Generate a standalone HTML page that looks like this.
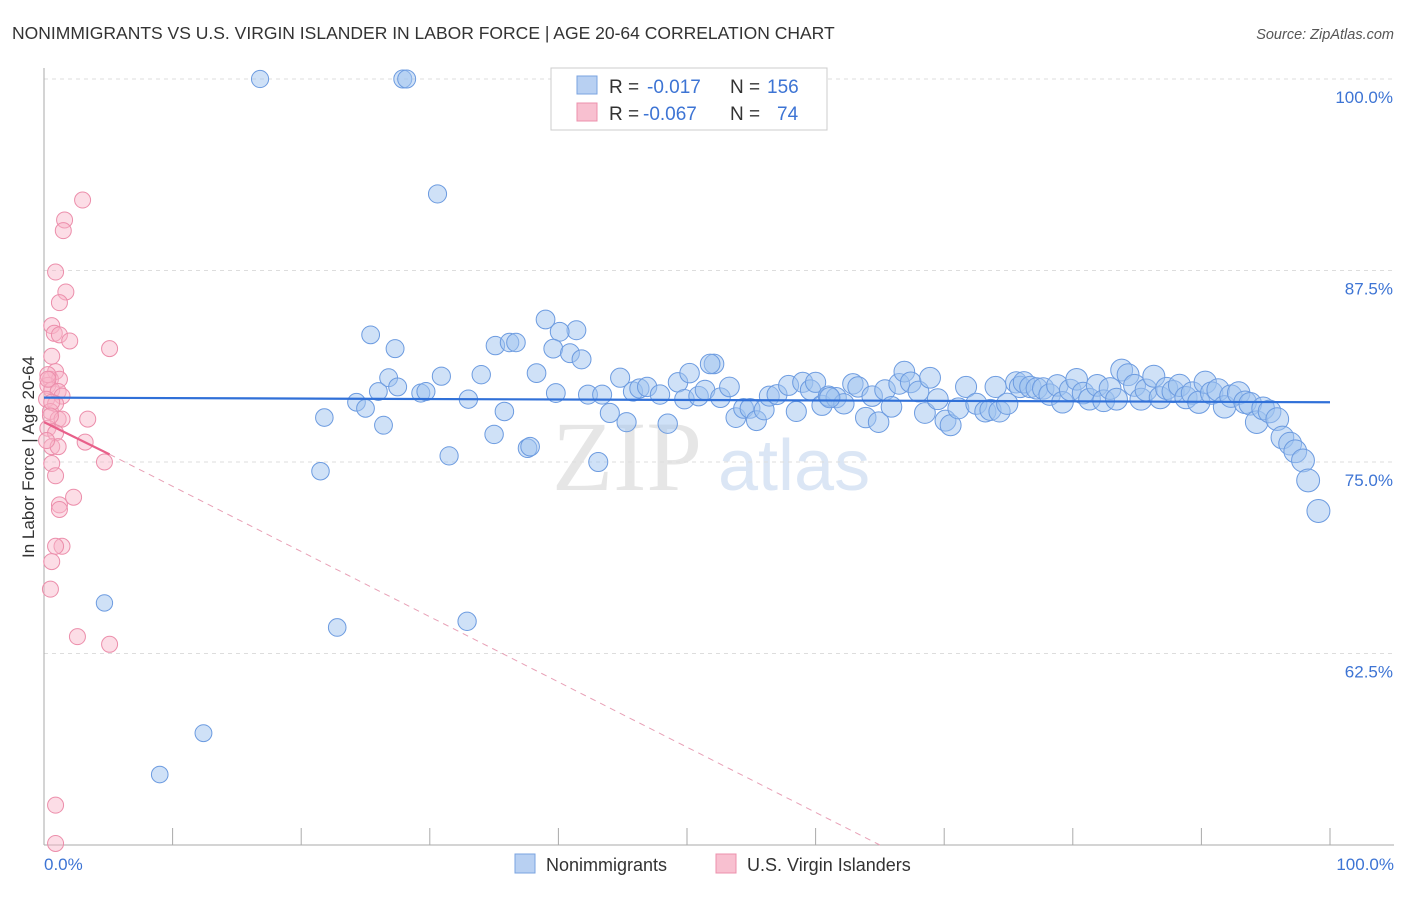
<!DOCTYPE html>
<html><head><meta charset="utf-8"><style>
body{margin:0;background:#fff;font-family:"Liberation Sans",sans-serif}
svg text{font-family:"Liberation Sans",sans-serif}
</style></head><body>
<svg id="c" width="1406" height="892" xmlns="http://www.w3.org/2000/svg">
<text x="12" y="39" font-size="17.5" fill="#333">NONIMMIGRANTS VS U.S. VIRGIN ISLANDER IN LABOR FORCE | AGE 20-64 CORRELATION CHART</text>
<text x="1394" y="39" font-size="14.5" fill="#555" font-style="italic" text-anchor="end">Source: ZipAtlas.com</text>
<text x="552" y="490" font-size="100" fill="#e6e6e6" style="font-family:'Liberation Serif',serif">ZIP</text>
<text x="718" y="490" font-size="72" fill="#dbe6f5">atlas</text>
<g id="grid"></g><g id="pts"></g><g id="lines"></g>
<text transform="translate(34,457) rotate(-90)" font-size="17" fill="#333" text-anchor="middle">In Labor Force | Age 20-64</text>
<g>
<rect x="551" y="68" width="276" height="62" fill="#fff" stroke="#ccc"/>
<rect x="577" y="76" width="20" height="18" fill="#b8d0f2" stroke="#7aa3e0"/>
<rect x="577" y="103" width="20" height="18" fill="#f8c0d0" stroke="#ec90ac"/>
<text x="609" y="93" font-size="19" fill="#333">R =</text>
<text x="647" y="93" font-size="19" fill="#3d74d4">-0.017</text>
<text x="730" y="93" font-size="19" fill="#333">N =</text>
<text x="767" y="93" font-size="19" fill="#3d74d4">156</text>
<text x="609" y="120" font-size="19" fill="#333">R =</text>
<text x="643" y="120" font-size="19" fill="#3d74d4">-0.067</text>
<text x="730" y="120" font-size="19" fill="#333">N =</text>
<text x="777" y="120" font-size="19" fill="#3d74d4">74</text>
</g>
<g>
<rect x="515" y="854" width="20" height="19" fill="#b8d0f2" stroke="#7aa3e0"/>
<text x="546" y="871" font-size="18" fill="#333">Nonimmigrants</text>
<rect x="716" y="854" width="20" height="19" fill="#f8c0d0" stroke="#ec90ac"/>
<text x="747" y="871" font-size="18" fill="#333">U.S. Virgin Islanders</text>
</g>
<text x="44" y="870" font-size="17" fill="#3d74d4">0.0%</text>
<text x="1394" y="870" font-size="17" fill="#3d74d4" text-anchor="end">100.0%</text>
</svg>
<script>
const yTicks=[100,87.5,75,62.5];
const yTickLabels=["100.0%","87.5%","75.0%","62.5%"];
const blueX=[16.8,27.9,28.2,30.6,39.0,41.4,25.4,40.1,27.3,35.1,36.2,36.7,39.6,40.9,41.8,52.1,51.8,21.5,21.8,24.3,25.0,26.4,26.0,26.8,27.5,29.3,30.9,29.7,33.0,34.0,35.8,35.0,37.6,37.8,38.3,39.8,31.5,43.1,42.3,43.4,44.0,44.8,45.3,45.8,46.3,46.9,47.9,48.5,49.3,50.2,49.8,50.9,51.4,52.6,53.3,53.8,54.4,54.9,55.4,56.0,56.4,57.0,57.9,58.5,59.0,59.6,60.0,60.5,61.0,61.6,62.2,62.9,63.3,63.9,64.4,64.9,65.4,65.9,66.5,66.9,67.4,68.0,68.5,68.9,69.5,70.1,70.5,71.1,71.7,72.5,73.2,73.6,74.0,74.3,74.9,75.6,75.9,76.2,76.7,77.2,77.7,78.2,78.8,79.2,79.8,80.3,80.8,81.3,81.9,82.4,82.9,83.4,83.8,84.3,84.8,85.3,85.7,86.3,86.8,87.3,87.8,88.3,88.8,89.3,89.8,90.3,90.8,91.3,91.8,92.3,92.9,93.4,93.8,94.3,94.8,95.3,95.9,96.3,96.9,97.3,97.9,98.3,99.1,4.7,22.8,32.9,12.4,9.0,61.1];
const blueY=[100,100,100,92.5,84.3,83.6,83.3,83.5,82.4,82.6,82.8,82.8,82.4,82.1,81.7,81.4,81.4,74.4,77.9,78.9,78.5,77.4,79.6,80.5,79.9,79.5,80.6,79.6,79.1,80.7,78.3,76.8,75.9,76.0,80.8,79.5,75.4,75.0,79.4,79.4,78.2,80.5,77.6,79.6,79.8,79.9,79.4,77.5,80.2,80.8,79.1,79.3,79.7,79.2,79.9,77.9,78.5,78.5,77.7,78.4,79.3,79.4,80.0,78.3,80.2,79.7,80.2,78.7,79.3,79.2,78.8,80.1,79.9,77.9,79.3,77.6,79.7,78.6,80.1,80.9,80.2,79.6,78.2,80.5,79.1,77.7,77.4,78.5,79.9,78.8,78.3,78.4,79.9,78.3,78.8,80.2,79.9,80.2,79.9,79.8,79.8,79.4,80.0,78.9,79.7,80.4,79.5,79.1,80.0,79.0,79.8,79.1,81.0,80.7,80.0,79.1,79.7,80.6,79.2,79.8,79.6,80.0,79.2,79.5,78.9,80.2,79.5,79.7,78.6,79.3,79.5,78.9,78.8,77.6,78.5,78.3,77.8,76.6,76.2,75.7,75.1,73.8,71.8,65.8,64.2,64.6,57.3,54.6,79.2];
const pinkX=[3.0,1.6,1.5,0.9,1.7,1.2,0.6,0.8,1.2,2.0,5.1,0.6,0.9,0.5,1.2,0.3,0.6,1.1,1.4,0.2,0.9,0.5,1.1,3.4,1.4,0.3,0.9,3.2,0.6,1.1,4.7,0.6,0.9,2.3,1.2,1.2,1.4,0.9,0.6,0.5,2.6,5.1,0.9,0.9,0.3,0.3,0.6,0.2,0.5];
const pinkY=[92.1,90.8,90.1,87.4,86.1,85.4,83.9,83.4,83.3,82.9,82.4,81.9,80.9,80.4,80.4,80.0,79.7,79.6,79.3,79.1,78.8,78.3,77.8,77.8,77.8,77.2,76.9,76.3,76.0,76.0,75.0,74.9,74.1,72.7,72.2,71.9,69.5,69.5,68.5,66.7,63.6,63.1,52.6,50.1,80.7,80.4,78.9,76.4,78.0];
const X0=44,X1=1330,Y100=79,PX=191.5/12.5;
const sx=v=>X0+(X1-X0)*v/100, sy=v=>Y100+(100-v)*PX;
const NS="http://www.w3.org/2000/svg";
function mk(tag,attrs,parent){const e=document.createElementNS(NS,tag);for(const k in attrs)e.setAttribute(k,attrs[k]);document.getElementById(parent).appendChild(e);return e;}
yTicks.forEach((t,i)=>{
 const l=mk('line',{x1:44,x2:1394,y1:sy(t),y2:sy(t),stroke:'#ddd','stroke-dasharray':'4,4'},'grid');
 
 
 const tx=mk('text',{x:1393,y:sy(t)+24,'font-size':17,fill:'#3d74d4','text-anchor':'end'},'grid');tx.textContent=yTickLabels[i];
 
 
});
const ax=mk('line',{x1:44,x2:44,y1:68,y2:845,stroke:'#aaa'},'grid');


const bx=mk('line',{x1:44,x2:1394,y1:845,y2:845,stroke:'#aaa'},'grid');


for(let i=0;i<=10;i++){const t=mk('line',{x1:sx(i*10),x2:sx(i*10),y1:828,y2:845,stroke:'#aaa'},'grid');
 
 }
blueX.forEach((x,i)=>{const c=mk('circle',{cx:sx(x),cy:sy(blueY[i]),r:8+3.5*x/100,fill:'rgba(160,195,240,0.5)',stroke:'#6c9be0','stroke-width':1},'pts');
 
 });
pinkX.forEach((x,i)=>{const c=mk('circle',{cx:sx(x),cy:sy(pinkY[i]),r:8,fill:'rgba(248,180,200,0.45)',stroke:'#ec8eab','stroke-width':1},'pts');
 
 });
const bl=mk('line',{x1:sx(0),y1:sy(79.2),x2:sx(100),y2:sy(78.9),stroke:'#3070d8','stroke-width':2.2},'lines');


const pl=mk('line',{x1:sx(0),y1:sy(77.6),x2:sx(5.1),y2:sy(75.5),stroke:'#e8608a','stroke-width':2.2},'lines');


const pd=mk('line',{x1:sx(5.1),y1:sy(75.5),x2:sx(65),y2:sy(50),stroke:'#e8a0b6','stroke-width':1,'stroke-dasharray':'6,5'},'lines');


</script>
</body></html>
